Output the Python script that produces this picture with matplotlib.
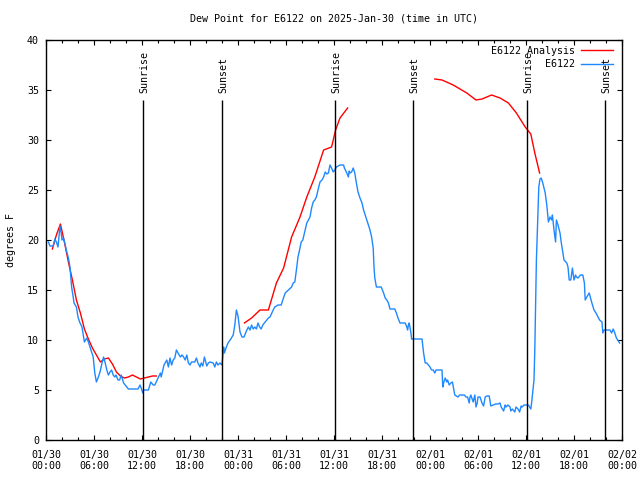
import matplotlib
matplotlib.use("Agg")
import matplotlib.pyplot as plt
from matplotlib.ticker import MultipleLocator

# hours since 2025-01-30 00:00 UTC
obs_t = [0.3, 0.5, 0.9, 1.1, 1.3, 1.5, 1.75, 1.9, 2.0, 2.2, 2.4, 2.6, 2.8, 3.0, 3.2, 3.4, 3.5, 3.8,
         4.0, 4.2, 4.5, 4.7, 4.8, 5.1, 5.3, 5.5, 5.7, 5.9, 6.1, 6.3, 6.5, 6.75, 7.0, 7.2, 7.4, 7.6,
         7.8, 8.0, 8.2, 8.4, 8.6, 8.75, 9.0, 9.2, 9.4, 9.7, 9.9, 10.3, 11.5, 11.75, 11.9, 12.1, 12.2,
         12.8, 13.1, 13.4, 13.6, 14.0, 14.3, 14.4, 14.75, 15.1, 15.3, 15.5, 15.7, 15.9, 16.1, 16.3,
         16.5, 16.8, 17.0, 17.2, 17.4, 17.6, 17.8, 18.0, 18.2, 18.6, 18.8, 19.0, 19.25, 19.4, 19.6,
         19.8, 20.1, 20.3, 20.5, 20.9, 21.1, 21.3, 21.5, 21.75, 22.0, 22.2, 22.3, 22.5, 22.75, 23.1,
         23.4, 23.6, 23.8, 24.0, 24.25, 24.5, 24.75, 25.1, 25.3, 25.5, 25.7, 25.9, 26.1, 26.3, 26.5,
         26.7, 26.9, 27.1, 27.4, 27.6, 27.8, 28.0, 28.4, 28.6, 29.0, 29.4, 29.6, 29.9, 30.3, 30.7,
         30.9, 31.1, 31.3, 31.5, 31.75, 31.9, 32.1, 32.4, 32.6, 33.0, 33.2, 33.4, 33.6, 33.8, 34.0,
         34.25, 34.5, 34.7, 34.9, 35.1, 35.3, 35.5, 35.7, 35.9, 36.1, 36.3, 36.75, 37.2, 37.3, 37.6,
         37.8, 37.9, 38.0, 38.2, 38.4, 38.6, 38.8, 39.0, 39.25, 39.5, 39.7, 39.9, 40.1, 40.3, 40.5,
         40.7, 40.9, 41.0, 41.1, 41.3, 41.9, 42.2, 42.4, 42.6, 42.8, 43.0, 43.6, 43.8, 44.0, 44.25,
         44.9, 45.1, 45.2, 45.3, 45.4, 45.6, 45.7, 47.0, 47.2, 47.4, 47.6, 47.8, 48.0, 48.2, 48.4,
         48.6, 48.75, 49.5, 49.6, 49.7, 49.9, 50.1, 50.2, 50.4, 50.6, 50.8, 51.1, 51.5, 51.7, 52.3,
         52.5, 52.7, 52.9, 53.0, 53.1, 53.4, 53.6, 53.75, 53.9, 54.0, 54.25, 54.5, 54.7, 54.9, 55.1,
         55.4, 55.6, 55.9, 56.2, 56.5, 56.75, 56.9, 57.2, 57.4, 57.5, 57.75, 58.0, 58.1, 58.3, 58.6,
         58.75, 59.0, 59.2, 59.4, 59.5, 59.75, 60.3, 60.6, 60.7, 60.8, 61.0, 61.1, 61.2, 61.3, 61.45,
         61.6, 61.75, 61.9, 62.1, 62.4, 62.6, 62.7, 62.8, 63.0, 63.2, 63.3, 63.5, 63.7, 63.8, 64.0,
         64.25, 64.4, 64.6, 64.75, 65.1, 65.25, 65.4, 65.6, 65.8, 66.0, 66.2, 66.3, 66.5, 66.8, 67.1,
         67.3, 67.4, 67.6, 67.9, 68.2, 68.5, 68.75, 69.0, 69.2, 69.5, 69.6, 69.75, 70.5, 70.7, 70.9,
         71.1, 71.3, 71.7]
obs_v = [19.8, 19.4, 19.4, 20.1, 19.8, 19.3, 21.4, 20.7, 20.0, 20.2, 19.5, 18.8, 18.2, 17.3, 15.3,
         14.3, 13.7, 13.3, 12.3, 11.8, 11.3, 10.3, 9.8, 10.2, 9.8, 9.3, 8.8, 8.3, 6.7, 5.8, 6.2, 6.8,
         7.7, 8.3, 7.7, 7.0, 6.5, 6.8, 7.0, 6.5, 6.3, 6.5, 6.0, 6.0, 6.5, 5.7, 5.5, 5.1, 5.1, 5.5,
         5.2, 4.7, 5.0, 5.0, 5.8, 5.5, 5.5, 6.2, 6.7, 6.3, 7.5, 8.0, 7.3, 8.2, 7.5, 8.0, 8.2, 9.0,
         8.7, 8.3, 8.5, 8.3, 8.0, 8.5, 7.7, 7.5, 7.8, 7.8, 8.2, 7.7, 7.3, 7.7, 7.4, 8.3, 7.4, 7.7,
         7.8, 7.7, 7.3, 7.8, 7.5, 7.7, 7.5, 9.3, 8.7, 9.2, 9.7, 10.1, 10.5, 11.5, 13.0, 12.4, 10.8,
         10.3, 10.3, 11.0, 11.3, 11.0, 11.5, 11.1, 11.3, 11.1, 11.7, 11.3, 11.1, 11.5, 11.8, 12.0,
         12.2, 12.3, 13.0, 13.3, 13.5, 13.5, 14.0, 14.7, 15.0, 15.3, 15.7, 15.8, 17.0, 18.3, 19.2,
         19.8, 20.0, 21.0, 21.7, 22.3, 23.2, 23.8, 24.0, 24.3, 25.0, 25.8, 26.0, 26.3, 26.8, 26.6,
         26.7, 27.5, 27.2, 26.8, 27.0, 27.3, 27.5, 27.5, 27.2, 26.7, 26.3, 26.9, 26.7, 26.8, 27.2,
         26.7, 25.7, 24.8, 24.2, 23.7, 23.0, 22.5, 22.0, 21.5, 21.0, 20.3, 19.2, 17.3, 16.2, 15.3,
         15.3, 14.7, 14.2, 14.0, 13.7, 13.1, 13.1, 12.7, 12.2, 11.7, 11.7, 11.3, 11.0, 11.5, 11.7,
         10.8, 10.1, 10.1, 8.7, 7.7, 7.7, 7.5, 7.3, 7.0, 7.0, 6.7, 7.0, 7.0, 5.3, 5.7, 6.2, 5.8,
         6.0, 5.5, 5.7, 5.8, 4.5, 4.3, 4.5, 4.5, 4.3, 4.3, 3.7, 4.3, 4.5, 3.8, 4.5, 3.3, 3.7, 4.3,
         4.3, 3.7, 3.4, 4.3, 4.4, 4.4, 3.4, 3.5, 3.6, 3.6, 3.7, 3.3, 2.9, 3.5, 3.3, 3.5, 3.3, 2.9,
         3.1, 2.8, 3.3, 3.1, 2.8, 3.4, 3.3, 3.5, 3.5, 3.1, 3.7, 4.5, 6.0, 9.0, 13.5, 18.0, 21.8,
         25.3, 26.1, 26.2, 25.7, 24.7, 23.5, 22.7, 21.8, 22.3, 22.0, 22.5, 21.0, 19.8, 22.0, 21.5,
         20.7, 19.8, 18.8, 18.0, 17.7, 17.3, 16.0, 16.0, 17.2, 16.0, 16.5, 16.3, 16.2, 16.5, 16.5,
         15.7, 14.0, 14.3, 14.7, 13.8, 13.0, 12.7, 12.3, 12.0, 11.8, 10.7, 11.0, 11.0, 10.7, 11.1,
         10.7, 10.2, 9.7]

# analysis runs (three separate segments)
ana1_t = [0.8, 1.3, 1.8, 2.3, 2.8, 3.3, 3.8, 4.3, 4.8, 5.3, 5.8, 6.3, 6.8, 7.3, 7.8, 8.3, 8.8,
          9.3, 9.8, 10.3, 10.8, 11.3, 11.8, 12.3, 12.8, 13.3, 13.8]
ana1_v = [19.1, 20.5, 21.6, 19.8, 17.8, 16.0, 14.0, 12.7, 11.1, 10.1, 9.2, 8.5, 7.8, 8.1, 8.2,
          7.6, 6.8, 6.4, 6.2, 6.3, 6.5, 6.3, 6.1, 6.2, 6.3, 6.4, 6.4]
ana2_t = [24.8, 25.7, 26.75, 27.8, 28.8, 29.7, 30.7, 31.75, 32.6, 33.6, 34.7, 35.7, 36.2, 36.75, 37.7]
ana2_v = [11.7, 12.2, 13.0, 13.0, 15.7, 17.2, 20.3, 22.3, 24.3, 26.3, 29.0, 29.3, 31.0, 32.2, 33.2]
ana3_t = [48.6, 49.5, 50.9, 52.6, 53.75, 54.5, 55.7, 56.75, 57.8, 58.8, 59.9, 60.6, 61.1, 61.7]
ana3_v = [36.1, 36.0, 35.5, 34.7, 34.0, 34.1, 34.5, 34.2, 33.7, 32.7, 31.3, 30.6, 28.7, 26.7]

sunrise = [12.1, 36.1, 60.1]
sunset = [22.0, 45.9, 69.9]

tick_hours = list(range(0, 73, 6))
tick_labels = ["01/30\n00:00", "01/30\n06:00", "01/30\n12:00", "01/30\n18:00",
               "01/31\n00:00", "01/31\n06:00", "01/31\n12:00", "01/31\n18:00",
               "02/01\n00:00", "02/01\n06:00", "02/01\n12:00", "02/01\n18:00",
               "02/02\n00:00"]

plt.rcParams['font.family'] = ['DejaVu Sans Mono']
plt.rcParams['font.size'] = 7.2

fig = plt.figure(figsize=(6.4, 4.8), dpi=100)
ax = fig.add_axes([46 / 640, 40 / 480, 576 / 640, 400 / 480])

red = '#ff0000'
blue = '#1e88ff'
ax.plot(ana1_t, ana1_v, color=red, lw=1, label='E6122 Analysis')
ax.plot(ana2_t, ana2_v, color=red, lw=1)
ax.plot(ana3_t, ana3_v, color=red, lw=1)
ax.plot(obs_t, obs_v, color=blue, lw=1, label='E6122')

for t in sunrise:
    ax.vlines(t, 0, 34, colors='black', lw=1)
    ax.text(t + 0.2, 34.7, 'Sunrise', rotation=90, ha='center', va='bottom')
for t in sunset:
    ax.vlines(t, 0, 34, colors='black', lw=1)
    ax.text(t + 0.2, 34.7, 'Sunset', rotation=90, ha='center', va='bottom')

ax.set_xlim(0, 72)
ax.set_ylim(0, 40)
ax.set_xticks(tick_hours)
ax.set_xticklabels(tick_labels)
ax.xaxis.set_minor_locator(MultipleLocator(2))
ax.set_yticks(range(0, 41, 5))
ax.tick_params(which='major', direction='in', top=True, right=True, length=3.5, width=0.8, pad=5)
ax.tick_params(which='minor', direction='in', top=True, right=True, length=2, width=0.8)
ax.tick_params(axis='x', which='major', pad=7)
for s in ax.spines.values():
    s.set_linewidth(1)

ax.set_ylabel('degrees F', labelpad=8)
ax.set_title('Dew Point for E6122 on 2025-Jan-30 (time in UTC)', fontsize=7.2, pad=13)

ax.legend(loc='upper right', frameon=False, markerfirst=False, handlelength=3.2,
          borderaxespad=0.2, labelspacing=0.35, handletextpad=0.6,
          bbox_to_anchor=(0.995, 1.0))

fig.savefig('out.png', dpi=100)
